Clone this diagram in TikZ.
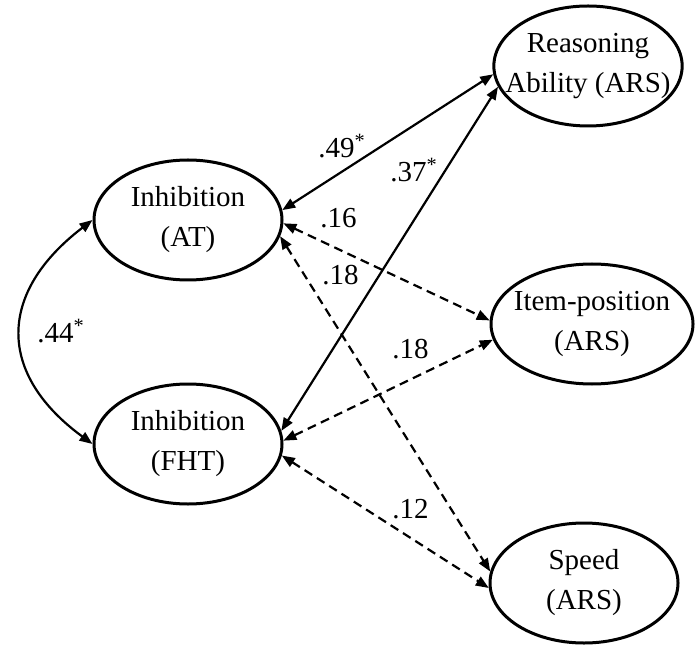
\documentclass[tikz,border=0pt]{standalone}
\usepackage{fontspec}
\setmainfont{Liberation Serif}
\usetikzlibrary{arrows.meta,shapes.geometric}

\begin{document}
\begin{tikzpicture}[x=0.5pt,y=-0.5pt,font=\fontsize{14.5}{20}\selectfont]
  \tikzset{lat/.style={draw,ellipse,line width=1.5pt,minimum width=#1,minimum height=60pt,inner xsep=-8pt,inner ysep=0pt,align=center},
    lat/.default=94pt,
    cov/.style={{Triangle[length=6.5pt,width=5pt]}-{Triangle[length=6.5pt,width=5pt]},line width=1.1pt},
    dsh/.style={dash pattern=on 4.5pt off 2.8pt},
    est/.style={anchor=base west,inner sep=0pt}}
  \useasboundingbox (0,0) rectangle (699,651);
  \node[lat] (at) at (188,220) {Inhibition\\(AT)};
  \node[lat] (fht) at (188,444) {Inhibition\\(FHT)};
  \node[lat] (rsn) at (588,66) {Reasoning\\Ability (ARS)};
  \node[lat=101pt] (itm) at (592,324) {Item-position\\(ARS)};
  \node[lat] (spd) at (584,583) {Speed\\(ARS)};
  \draw[cov] (at.west) .. controls (-3,293) and (-3,374) .. (fht.west);
  \draw[cov] (at.6) -- (rsn.185);
  \draw[cov] (fht.8) -- (rsn.193);
  \draw[cov,dsh] (at.-2) -- (itm.178);
  \draw[cov,dsh] (at.-10) -- (spd.173);
  \draw[cov,dsh] (fht.2) -- (itm.189);
  \draw[cov,dsh] (fht.-7) -- (spd.183);
  \node[est] (e44) at (37,343) {.44\textsuperscript{*}};
  \node[est] (e49) at (318,158) {.49\textsuperscript{*}};
  \node[est] (e37) at (390,182) {.37\textsuperscript{*}};
  \node[est] (e16) at (320,228) {.16};
  \node[est] (e18a) at (322,285) {.18};
  \node[est] (e18b) at (392,358) {.18};
  \node[est] (e12) at (392,518) {.12};
\end{tikzpicture}
\end{document}
